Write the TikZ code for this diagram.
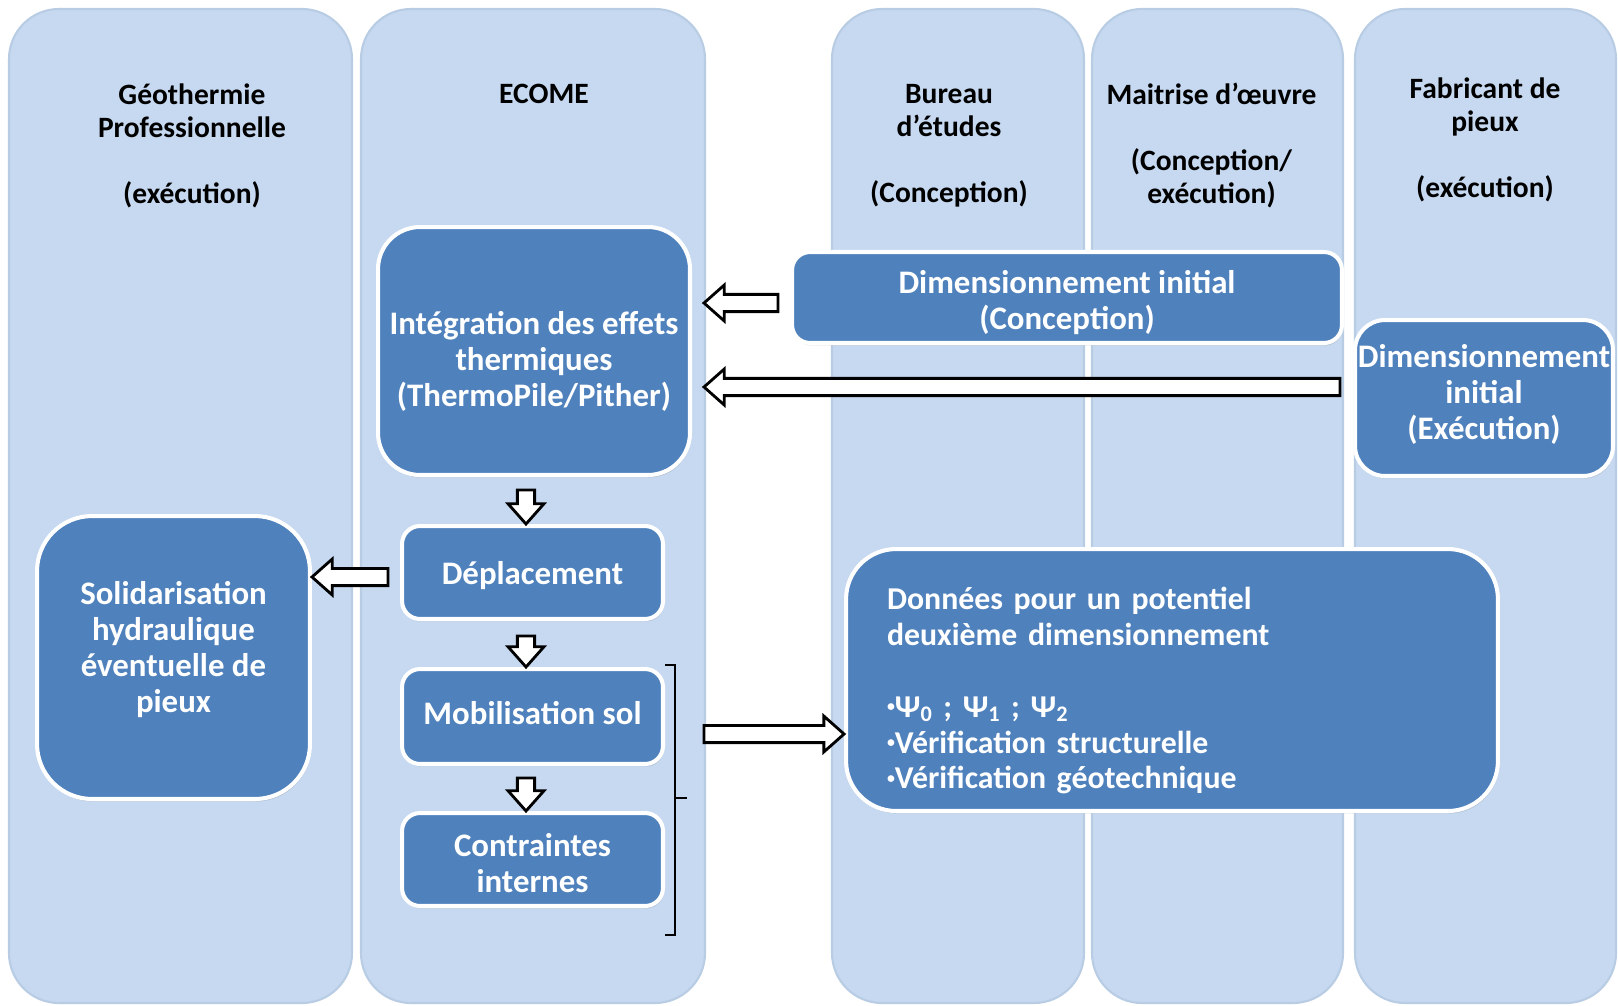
\documentclass[tikz,border=0pt]{standalone}
\usepackage{fontspec}
\setmainfont{Carlito}
\usepackage{tikz}
\usetikzlibrary{calc,shadows}

\definecolor{lanefill}{HTML}{C6D9F1}
\definecolor{laneline}{HTML}{B8CCE4}
\definecolor{boxblue}{HTML}{4F81BD}

\tikzset{
  lane/.style={fill=lanefill, draw=laneline, line width=1.2pt, rounded corners=1cm},
  head/.style={align=center, font=\fontsize{16.8}{18.7}\selectfont\bfseries},
  box/.style={rectangle, draw=white, line width=2.3pt, fill=boxblue, text=white, align=center,
    inner sep=0pt, font=\fontsize{18.7}{20.4}\selectfont\bfseries,
    drop shadow={shadow xshift=0.6pt, shadow yshift=-1.4pt, opacity=0.3}},
  fat/.style={draw=black, fill=white, line width=1.6pt, line join=miter},
  bracket/.style={draw=black, line width=1.1pt},
}

% struts to move a box text up or down
\newcommand\toppad[1]{\rule{0pt}{#1}}
\newcommand\botpad[1]{\rule[-#1]{0pt}{0pt}}
\newcommand\bul{\raisebox{3pt}{\fontsize{9}{9}\selectfont•}}

% block arrow from #1 (tail) to #2 (tip)
\newcommand\fatarrow[2]{%
  \coordinate (hb) at ($(#2)!11.5pt!(#1)$);
  \draw[fat] ($(#1)!4.9pt!90:(#2)$) -- ($(hb)!4.9pt!90:(#2)$) -- ($(hb)!10.2pt!90:(#2)$) -- (#2)
    -- ($(hb)!10.2pt!-90:(#2)$) -- ($(hb)!4.9pt!-90:(#2)$) -- ($(#1)!4.9pt!-90:(#2)$) -- cycle;
}

\begin{document}
\begin{tikzpicture}[x=0.02cm, y=-0.02cm]
  \useasboundingbox (0,0) rectangle (1618,1005);
  % Lanes
  \draw[lane] (9,9) rectangle (352,1003);
  \draw[lane] (361,9) rectangle (705,1003);
  \draw[lane] (832,9) rectangle (1084,1003);
  \draw[lane] (1092,9) rectangle (1343,1003);
  \draw[lane] (1355,9) rectangle (1616,1003);
  % Headings
  \node[head] (geo) at (192,146) {Géothermie\\Professionnelle\\\mbox{}\\(exécution)};
  \node[head] (ecome) at (544,94) {ECOME};
  \node[head] (bureau) at (949,146) {Bureau\\d’études\\\mbox{}\\(Conception)};
  \node[head] (moe) at (1211.5,145.5) {Maitrise d’œuvre\\\mbox{}\\(Conception/\\exécution)};
  \node[head] (fab) at (1485,140) {Fabricant de\\pieux\\\mbox{}\\(exécution)};
  % Nodes
  \node[box, rounded corners=0.84cm, minimum width=6.24cm, minimum height=4.96cm] (integ) at (534,351)
    {\toppad{25pt}Intégration des effets\\thermiques\\(ThermoPile/Pither)};
  \node[box, rounded corners=0.36cm, minimum width=11cm, minimum height=1.82cm] (dimc) at (1067,297.5)
    {\toppad{19pt}Dimensionnement initial\\(Conception)};
  \node[box, rounded corners=0.6cm, minimum width=5.16cm, minimum height=3.12cm] (dime) at (1484,398)
    {Dimensionnement\\initial\\(Exécution)\botpad{7pt}};
  \node[box, rounded corners=0.36cm, minimum width=5.22cm, minimum height=1.86cm] (depl) at (532.5,572.5)
    {\toppad{17pt}Déplacement};
  \node[box, rounded corners=0.36cm, minimum width=5.22cm, minimum height=1.9cm] (mobil) at (532.5,716.5)
    {Mobilisation sol\botpad{3.5pt}};
  \node[box, rounded corners=0.36cm, minimum width=5.22cm, minimum height=1.86cm] (contr) at (532.5,859.5)
    {\toppad{17.6pt}Contraintes\\internes};
  \node[box, rounded corners=1.1cm, minimum width=5.46cm, minimum height=5.66cm] (solid) at (173.5,657.5)
    {Solidarisation\\hydraulique\\éventuelle de\\pieux\botpad{12pt}};
  \node[box, rounded corners=1cm, minimum width=13.04cm, minimum height=5.24cm, align=left, text width=11.4cm,
    font=\fontsize{18.1}{20.4}\selectfont\bfseries] (donnees) at (1172,680)
    {\toppad{25pt}Données pour un potentiel\\deuxième dimensionnement\\\mbox{}\\\bul Ψ\textsubscript{0} ; Ψ\textsubscript{1} ; Ψ\textsubscript{2}\\\bul Vérification structurelle\\\bul Vérification géotechnique};
  % Bracket
  \coordinate (brk) at ($(mobil.north east)+(10,131)$);
  \draw[bracket] ($(mobil.north east)+(0,-2)$) -- ++(10,0) |- ($(contr.south east)+(0,27)$);
  \draw[bracket] (brk) -- ++(12,0);
  % Edges
  \coordinate (t1) at ($(dimc.west)+(-12,5.5)$);
  \coordinate (h1) at ($(integ.east |- t1)+(12,0)$);
  \fatarrow{t1}{h1}
  \coordinate (t2) at ($(dime.west)+(-13,-11)$);
  \coordinate (h2) at ($(integ.east |- t2)+(12,0)$);
  \fatarrow{t2}{h2}
  \coordinate (t3) at ($(integ.south)+(-8,13)$);
  \coordinate (h3) at (t3 |- depl.north);
  \fatarrow{t3}{h3}
  \coordinate (t4) at ($(depl.south)+(-6.5,15)$);
  \coordinate (h4) at (t4 |- mobil.north);
  \fatarrow{t4}{h4}
  \coordinate (t5) at ($(mobil.south)+(-6.5,12)$);
  \coordinate (h5) at (t5 |- contr.north);
  \fatarrow{t5}{h5}
  \coordinate (t6) at ($(depl.west)+(-12,4.5)$);
  \coordinate (h6) at (solid.east |- t6);
  \fatarrow{t6}{h6}
  \coordinate (t7) at ($(mobil.east)+(39,17.5)$);
  \coordinate (h7) at (donnees.west |- t7);
  \fatarrow{t7}{h7}
\end{tikzpicture}
\end{document}
